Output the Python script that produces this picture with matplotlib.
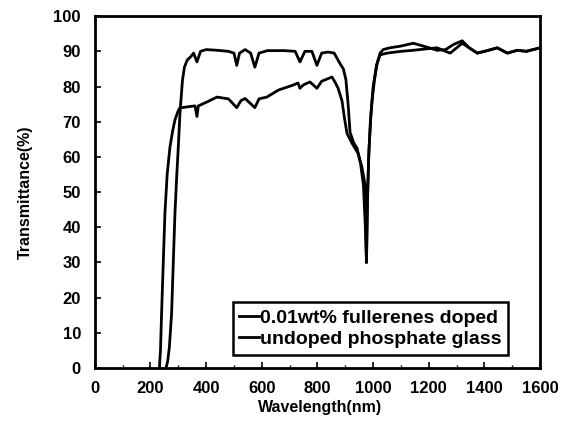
import matplotlib.pyplot as plt
from matplotlib.ticker import MultipleLocator

# undoped phosphate glass (upper plateau ~90 %)
wl_undoped = [256, 262, 268, 276, 282, 288, 294, 300, 306, 315, 322, 332, 345, 355,
              367, 380, 400, 440, 480, 500, 510, 520, 540, 560, 575, 590, 620, 680,
              720, 737, 755, 780, 798, 815, 838, 860, 881, 893, 902, 910, 917, 930,
              942, 955, 965, 972, 976, 979, 984, 990, 996, 1005, 1014, 1025, 1036,
              1060, 1100, 1144, 1180, 1230, 1260, 1290, 1320, 1345, 1374, 1410, 1446,
              1470, 1482, 1518, 1550, 1600]
tr_undoped = [0, 2, 6, 15.6, 30, 44, 54, 62.8, 72.4, 81.8, 85.5, 87.5, 88.5, 89.5,
              87, 90, 90.5, 90.3, 90, 89.5, 86, 89.5, 90.5, 89.5, 85.5, 89.5, 90.2, 90.2,
              90, 87, 90, 90, 86, 89.5, 89.8, 89.5, 86.5, 85, 82, 75, 67, 64,
              62.5, 58, 52, 40, 30, 45, 60, 70, 76, 82, 86.5, 89.5, 90.5,
              91, 91.5, 92.3, 91.5, 90.3, 90.5, 92, 93, 91, 89.5, 90.2, 91,
              90, 89.5, 90.3, 90, 91]

# 0.01wt% fullerenes doped (lower plateau ~75-83 %)
wl_doped = [232, 236, 240, 246, 252, 260, 270, 280, 288, 298, 306, 313, 340, 360,
            367, 372, 400, 439, 480, 510, 525, 540, 575, 590, 618, 660, 712, 730,
            737, 750, 773, 798, 815, 852, 865, 874, 888, 897, 906, 924, 946, 960,
            971, 976, 980, 985, 992, 1000, 1012, 1025, 1050, 1100, 1144, 1190, 1230,
            1260, 1277, 1300, 1320, 1345, 1374, 1410, 1446, 1470, 1482, 1518, 1550, 1600]
tr_doped = [0, 5, 15.6, 30, 44, 55, 62.8, 67.5, 70.5, 72.8, 74, 74, 74.3, 74.5,
            71.5, 74.5, 75.5, 77, 76.5, 74, 76, 76.6, 74, 76.5, 77, 79, 80.4, 81,
            79.5, 80.5, 81.3, 79.5, 81.5, 82.7, 81, 79.5, 76, 71, 66.7, 63.9, 61, 57,
            52, 30, 50, 62, 72, 80, 86, 89, 89.5, 90, 90.3, 90.7, 91,
            90, 89.5, 91, 92.3, 91, 89.5, 90.2, 91, 90, 89.5, 90.3, 90, 91]

x_ticks = [0, 200, 400, 600, 800, 1000, 1200, 1400, 1600]
y_ticks = [0, 10, 20, 30, 40, 50, 60, 70, 80, 90, 100]

plt.rcParams['font.family'] = ['Liberation Sans', 'DejaVu Sans']

fig = plt.figure(figsize=(5.71, 4.25), dpi=100)
ax = fig.add_axes([0.166, 0.134, 0.78, 0.828])

ax.plot(wl_doped, tr_doped, color='black', lw=2.0, label='0.01wt% fullerenes doped')
ax.plot(wl_undoped, tr_undoped, color='black', lw=2.0, label='undoped phosphate glass')

ax.set_xlim(0, 1600)
ax.set_ylim(0, 100)
ax.set_xticks(x_ticks)
ax.set_yticks(y_ticks)
ax.xaxis.set_minor_locator(MultipleLocator(100))
ax.tick_params(direction='in', length=4, width=1.2, labelsize=12)
ax.tick_params(axis='y', pad=10)
ax.tick_params(axis='x', pad=9)
ax.tick_params(which='minor', direction='in', length=2, width=1)
for lab in ax.get_xticklabels() + ax.get_yticklabels():
    lab.set_fontweight('bold')
for s in ax.spines.values():
    s.set_linewidth(2)

ax.set_xlabel('Wavelength(nm)', fontsize=11.5, fontweight='bold')
ax.set_ylabel('Transmittance(%)', fontsize=11.5, fontweight='bold')
ax.xaxis.set_label_coords(0.506, -0.09)
ax.yaxis.set_label_coords(-0.139, 0.5)

# legend box sits in the lower right, with a thick square frame
leg = ax.legend(loc='lower right', bbox_to_anchor=(0.928, 0.037), borderaxespad=0,
                handlelength=1.0, handletextpad=0.05, borderpad=0.35,
                labelspacing=0.2, fancybox=False, framealpha=1,
                prop={'weight': 'bold', 'size': 14})
leg.get_frame().set_edgecolor('black')
leg.get_frame().set_linewidth(1.8)

fig.savefig('out.png', dpi=100)
